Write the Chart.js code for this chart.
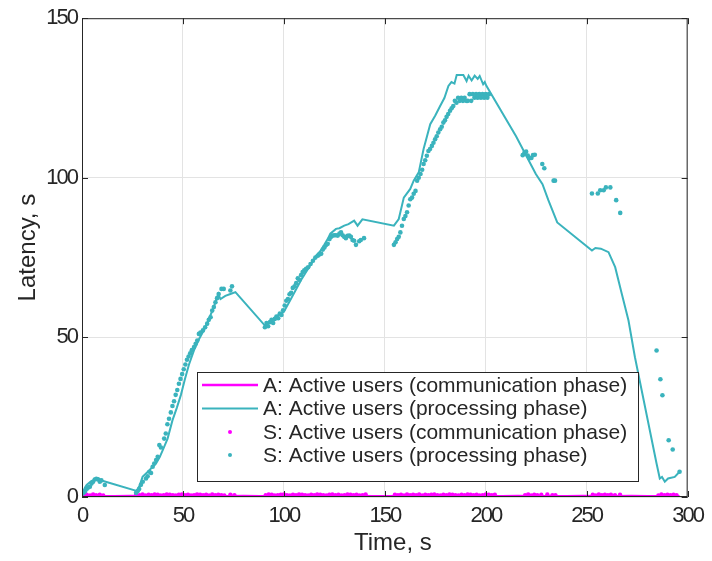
<!DOCTYPE html>
<html>
<head>
<meta charset="utf-8">
<script src="https://cdn.jsdelivr.net/npm/chart.js@4.4.1/dist/chart.umd.min.js"></script>
<style>
  html, body { margin: 0; padding: 0; background: #ffffff; }
  #wrap { width: 712px; height: 561px; }
</style>
</head>
<body>
<div id="wrap"><canvas id="chart" width="712" height="561"></canvas></div>
<script>
// Series labels
const seriesLabels = [
  'A: Active users (communication phase)',
  'A: Active users (processing phase)',
  'S: Active users (communication phase)',
  'S: Active users (processing phase)'
];

// Axis ticks
const xTicks = [0, 50, 100, 150, 200, 250, 300];
const yTicks = [0, 50, 100, 150];

// A: communication phase (line)
const aCommTime = [0, 8, 16, 24, 32, 40, 48, 56, 64, 72, 80, 88, 96, 104, 112, 120, 128, 136, 144, 152, 160, 168, 176, 184, 192, 200, 208, 216, 224, 232, 240, 248, 256, 264, 272, 280, 288, 296];
const aCommLatency = [0.2, 0.25, 0.2, 0.3, 0.25, 0.2, 0.3, 0.25, 0.2, 0.25, 0.3, 0.2, 0.25, 0.3, 0.2, 0.25, 0.2, 0.3, 0.25, 0.2, 0.3, 0.25, 0.2, 0.3, 0.25, 0.2, 0.25, 0.3, 0.2, 0.25, 0.2, 0.3, 0.25, 0.2, 0.3, 0.25, 0.2, 0.25];

// A: processing phase (line)
const aProcTime = [0, 1.5, 2.3, 4.7, 6, 8, 9.5, 10.5, 27, 28.5, 30, 33.4, 35, 36.7, 38.5, 40, 42.4, 44.8, 47, 49, 51, 53, 55.5, 58, 61, 63, 65, 67.5, 68.6, 71, 73.5, 76, 90.6, 92, 97, 100, 103, 106, 109, 112, 114, 116, 118, 120, 121.7, 123, 125.8, 127.5, 129.9, 132, 134.8, 136.5, 138.9, 154.5, 156.9, 159.4, 162.6, 164.3, 166.8, 169.2, 172.5, 175, 177.4, 179.5, 181.5, 183, 184.5, 185.6, 188.9, 190.5, 191.5, 193, 194.5, 196, 197, 198.7, 199.5, 200.3, 215, 220, 224.8, 228.1, 231, 235.4, 252.6, 254.3, 257, 260.8, 264.1, 267.4, 270.7, 273.9, 284.6, 286.2, 287.3, 288.7, 290.3, 293.6, 296];
const aProcLatency = [1.0, 3.0, 3.8, 5.0, 5.2, 5.9, 5.3, 5.0, 1.9, 3.5, 6.3, 8.4, 9.5, 10.5, 12.5, 14.7, 18.3, 24, 28, 32, 37, 41.5, 46, 49.5, 53, 56, 59, 63.6, 62, 63, 63.6, 64.2, 53.7, 54.2, 56.9, 58, 61.5, 65, 68.5, 71.5, 73.5, 75.6, 77, 79, 80.8, 82.5, 84, 84.2, 85, 85.5, 86.6, 85, 87, 85, 87.1, 93.8, 96.5, 99.1, 101.7, 109, 116.8, 119.5, 122.5, 125, 128.8, 130, 129.5, 132.2, 132.2, 130.3, 132, 130.5, 132, 131, 131.9, 129.3, 130, 128.8, 113, 107, 101.2, 98, 93, 86, 77.2, 78, 77.8, 76.7, 72, 63.6, 55.3, 43.8, 10.5, 5.8, 6.3, 4.8, 5.8, 6.3, 7.9];

// S: communication phase (points)
const sCommTime = [0.8, 2.3, 4, 5.5, 7, 8.8, 10.5, 26.8, 28.5, 30, 31.5, 33, 34.5, 36, 37.5, 39, 40.5, 42, 43.5, 45, 46.5, 48, 49.5, 51, 52.5, 54, 55.5, 57, 58.5, 60, 61.5, 63, 64.5, 66, 67.5, 69, 70.5, 73.5, 75.5, 91, 92.5, 94, 95.5, 97, 98.5, 100, 101.5, 103, 104.5, 106, 107.5, 109, 110.5, 112, 113.5, 115, 116.5, 118, 119.5, 121, 122.5, 124, 125.5, 127, 128.5, 130, 131.5, 133, 134.5, 136, 137.5, 139, 140.5, 155, 156.5, 158, 159.5, 161, 162.5, 164, 165.5, 167, 168.5, 170, 171.5, 173, 174.5, 176, 177.5, 179, 180.5, 182, 183.5, 185, 186.5, 188, 189.5, 191, 192.5, 194, 195.5, 197, 198.5, 200, 201.5, 203, 204.5, 219.5, 221, 222.5, 224, 225.5, 227.5, 230.5, 233, 234.5, 253, 254.5, 256, 257.5, 259, 260.5, 262, 264, 266.5, 285.5, 287, 288.5, 290, 291.5, 293, 294.5, 296];
const sCommLatency = [0.6, 0.7, 0.5, 0.8, 0.6, 0.7, 0.5, 0.7, 0.6, 0.8, 0.5, 0.7, 0.6, 0.8, 0.7, 0.5, 0.6, 0.8, 0.7, 0.6, 0.5, 0.7, 0.8, 0.6, 0.7, 0.5, 0.6, 0.8, 0.7, 0.6, 0.7, 0.5, 0.8, 0.6, 0.7, 0.6, 0.5, 0.7, 0.6, 0.6, 0.8, 0.7, 0.5, 0.6, 0.7, 0.8, 0.6, 0.5, 0.7, 0.6, 0.8, 0.7, 0.6, 0.5, 0.7, 0.6, 0.8, 0.7, 0.6, 0.5, 0.7, 0.8, 0.6, 0.7, 0.5, 0.6, 0.8, 0.7, 0.6, 0.7, 0.5, 0.6, 0.8, 0.7, 0.6, 0.7, 0.5, 0.8, 0.6, 0.7, 0.6, 0.8, 0.5, 0.7, 0.6, 0.7, 0.8, 0.6, 0.5, 0.7, 0.6, 0.8, 0.7, 0.6, 0.5, 0.7, 0.6, 0.8, 0.7, 0.6, 0.7, 0.5, 0.6, 0.8, 0.7, 0.6, 0.7, 0.6, 0.8, 0.5, 0.7, 0.6, 0.7, 0.8, 0.6, 0.6, 0.7, 0.5, 0.8, 0.6, 0.7, 0.6, 0.7, 0.6, 0.7, 0.5, 0.8, 0.6, 0.7, 0.6, 0.7, 0.6];

// S: processing phase (points)
const sProcTime = [0, 0.8, 1.5, 2.3, 3.1, 3.9, 4.7, 5.5, 6.3, 7.1, 8.0, 8.8, 9.6, 11.3, 26.8, 27.5, 28.3, 29.2, 30.1, 31.7, 32.5, 33.4, 34.2, 35.0, 35.8, 36.7, 37.5, 38.3, 39.1, 40.7, 41.5, 42.3, 43.1, 44, 44.8, 45.6, 46.4, 47.2, 48, 48.8, 49.6, 50.4, 51.2, 52, 52.8, 53.6, 54.4, 55.5, 56.3, 57.1, 57.9, 58.7, 59.9, 61, 62, 62.8, 63.7, 64.5, 65.3, 66.1, 66.9, 67.7, 69.1, 70.2, 73.5, 74.3,
  90.6, 91.4, 92.2, 93.1, 93.9, 94.7, 95.5, 96.3, 97.2, 98, 98.8, 99.6, 100.4, 101.2, 102, 102.8, 103.6, 104.4, 105.3, 106.1, 106.9, 107.7, 108.5, 109.3, 110.1, 111, 112, 113.2, 114.4, 115.6, 116.8, 117.6, 118.5, 119.3, 120.1, 121, 121.7, 122.6, 123.4, 124.2, 125, 125.8, 126.7, 127.5, 128.3, 129.1, 129.9, 130.7, 131.5, 132.4, 133.2, 134, 134.8, 135.7, 137.3, 138.1, 139.7,
  154.5, 155.3, 156.1, 156.9, 157.7, 158.5, 159.4, 160.2, 161, 161.8, 162.6, 163.5, 164.3, 165.2, 166, 166.8, 167.7, 168.5, 169.2, 170, 170.8, 171.6, 172.4, 173.3, 174.1, 174.9, 175.7, 176.5, 177.4, 178.2, 179, 179.8, 180.6, 181.4, 182.3, 183.1, 183.9, 184.7, 185.5, 186.3, 187.1, 187.9, 188.7, 189.5, 190.3, 191.1, 192, 192.8, 193.6, 194.4, 195.2, 196, 196.8, 197.6, 198.4, 199.2, 200, 200.8, 201.6,
  218.3, 219.2, 220, 220.8, 221.6, 222.6, 223.4, 224.3, 228, 229, 233.6, 234.3,
  252.6, 255.5, 256.7, 258.4, 259.5, 261.7, 264.6, 266.6,
  284.6, 286.5, 287.5, 290.6, 292.6, 296];
const sProcLatency = [1.0, 1.3, 1.7, 2.5, 3.0, 3.2, 4.2, 4.8, 5.5, 5.7, 5.5, 4.8, 5.2, 3.75, 1.3, 1.8, 2.5, 3.8, 4.8, 5.8, 6.5, 7.9, 7.5, 9.5, 10.5, 11.6, 12.6, 16.3, 15.5, 18.3, 19.9, 22.8, 24.5, 26.5, 28.5, 30, 32, 33.5, 35.5, 37, 38.5, 40, 41.5, 43, 44, 45, 46, 47, 48, 49, 51.1, 51.5, 52.2, 53.2, 54.3, 55.5, 56.3, 58.4, 59.5, 61, 62.3, 63.6, 65.2, 65.2, 64.7, 66,
  53.2, 54.5, 53.5, 54.8, 55.5, 54.5, 55.8, 56.5, 56, 57.5, 57, 58.5, 60, 61.5, 62, 63.5, 64, 65.5, 66, 67, 68.5, 68, 69.5, 70.5, 71, 71.5, 72, 73, 74, 75, 75.6, 76, 76.2, 77.5, 78.2, 79, 79.3, 80.8, 81.5, 81.9, 82, 82, 81.9, 82.5, 82.9, 82, 81.5, 81.1, 81.8, 81.9, 81.5, 80.5, 80.3, 79, 80.1, 80.5, 81.1,
  79, 79.8, 80.8, 81.5, 82.9, 85, 87.1, 88, 89.2, 91.3, 93.3, 93.8, 95, 95.9, 99.1, 100, 101.2, 102.5, 104.3, 105.5, 106.9, 108.4, 109, 110, 111, 112.1, 113, 114.2, 115.2, 116, 117.3, 118, 119.1, 120, 121, 121.8, 122.5, 124.1, 123.5, 125.1, 124.1, 125.1, 124.1, 125.1, 124.1, 124.1, 126.2, 124.1, 126.2, 125.1, 126.2, 125.1, 126.2, 125.1, 126.2, 125.1, 126.2, 125.1, 126.2,
  107.1, 107.9, 108.2, 107, 106.1, 106.2, 107.1, 107.2, 104.3, 103, 99.1, 99.1,
  95.1, 95.1, 96.1, 96.1, 97, 97, 93, 89,
  45.9, 36.9, 31.9, 17.8, 14.9, 7.9];

const MAGENTA = '#ff00ff';
const TEAL = '#3ab3bd';
const INK = '#262626';

const toPoints = (xs, ys) => xs.map((x, i) => ({ x: x, y: ys[i] }));

// Tight tracking for the numeric tick labels
const tickTracking = {
  id: 'tickTracking',
  beforeDraw(chart) { chart.ctx.letterSpacing = '-2px'; },
  beforeDatasetsDraw(chart) { chart.ctx.letterSpacing = '0px'; }
};

// Box around the axes with inward tick marks on all four sides
const axesBox = {
  id: 'axesBox',
  afterDatasetsDraw(chart) {
    const { ctx, chartArea: a, scales } = chart;
    ctx.save();
    ctx.strokeStyle = INK;
    ctx.lineWidth = 1;
    ctx.strokeRect(a.left + 0.5, a.top + 0.5, a.right - a.left - 1, a.bottom - a.top - 1);
    const len = 6;
    ctx.beginPath();
    xTicks.forEach(v => {
      const px = Math.round(scales.x.getPixelForValue(v)) + 0.5;
      ctx.moveTo(px, a.bottom); ctx.lineTo(px, a.bottom - len);
      ctx.moveTo(px, a.top); ctx.lineTo(px, a.top + len);
    });
    yTicks.forEach(v => {
      const py = Math.round(scales.y.getPixelForValue(v)) + 0.5;
      ctx.moveTo(a.left, py); ctx.lineTo(a.left + len, py);
      ctx.moveTo(a.right, py); ctx.lineTo(a.right - len, py);
    });
    ctx.stroke();
    ctx.restore();
  }
};

// Axis titles
const axisTitles = {
  id: 'axisTitles',
  afterDraw(chart) {
    const { ctx, chartArea: a } = chart;
    ctx.save();
    ctx.letterSpacing = '0px';
    ctx.fillStyle = INK;
    ctx.font = '24px "Liberation Sans", Arial, sans-serif';
    ctx.textAlign = 'center';
    ctx.textBaseline = 'alphabetic';
    ctx.fillText('Time, s', (a.left + a.right) / 2 + 8, a.bottom + 53);
    ctx.translate(a.left - 47, (a.top + a.bottom) / 2 - 10);
    ctx.rotate(-Math.PI / 2);
    ctx.fillText('Latency, s', 0, 0);
    ctx.restore();
  }
};

// Boxed legend inside the plot, lower centre
const boxLegend = {
  id: 'boxLegend',
  afterDraw(chart) {
    const { ctx } = chart;
    const left = 197, top = 372, right = 639, bottom = 482;
    ctx.save();
    ctx.letterSpacing = '0px';
    ctx.fillStyle = '#ffffff';
    ctx.fillRect(left, top, right - left, bottom - top);
    ctx.strokeStyle = INK;
    ctx.lineWidth = 1;
    ctx.strokeRect(left + 0.5, top + 0.5, right - left - 1, bottom - top - 1);
    ctx.font = '21px "Liberation Sans", Arial, sans-serif';
    ctx.textBaseline = 'middle';
    ctx.textAlign = 'left';
    const rowY = [385, 408.5, 432, 455];
    chart.data.datasets.forEach((ds, i) => {
      const y = rowY[i];
      if (ds.showLine) {
        ctx.strokeStyle = ds.borderColor;
        ctx.lineWidth = ds.borderWidth;
        ctx.beginPath();
        ctx.moveTo(202, y); ctx.lineTo(258, y);
        ctx.stroke();
      } else {
        ctx.fillStyle = ds.backgroundColor;
        ctx.beginPath();
        ctx.arc(230, y, 2, 0, Math.PI * 2);
        ctx.fill();
      }
      ctx.fillStyle = INK;
      ctx.fillText(ds.label, 263, y + 1);
    });
    ctx.restore();
  }
};

const tickFont = { family: '"Liberation Sans", Arial, sans-serif', size: 22 };

new Chart(document.getElementById('chart'), {
  type: 'scatter',
  data: {
    datasets: [
      { label: seriesLabels[0], data: toPoints(aCommTime, aCommLatency), showLine: true, borderColor: MAGENTA, backgroundColor: MAGENTA, borderWidth: 2.5, pointRadius: 0, order: 3 },
      { label: seriesLabels[1], data: toPoints(aProcTime, aProcLatency), showLine: true, borderColor: TEAL, backgroundColor: TEAL, borderWidth: 2, pointRadius: 0, order: 2 },
      { label: seriesLabels[2], data: toPoints(sCommTime, sCommLatency), showLine: false, borderColor: MAGENTA, backgroundColor: MAGENTA, pointRadius: 2.2, pointBorderWidth: 0, order: 1 },
      { label: seriesLabels[3], data: toPoints(sProcTime, sProcLatency), showLine: false, borderColor: TEAL, backgroundColor: TEAL, pointRadius: 2.3, pointBorderWidth: 0, order: 0 }
    ]
  },
  options: {
    responsive: false,
    animation: false,
    layout: { padding: { top: 17, right: 19, left: 0, bottom: 0 } },
    plugins: { legend: { display: false }, tooltip: { enabled: false } },
    scales: {
      x: {
        type: 'linear', min: 0, max: 300,
        afterFit: s => { s.height = 64; },
        afterBuildTicks: s => { s.ticks = xTicks.map(v => ({ value: v })); },
        grid: { color: '#e3e3e3', lineWidth: 1, drawTicks: false },
        border: { display: false },
        ticks: { font: tickFont, color: INK, padding: 6, maxRotation: 0 }
      },
      y: {
        type: 'linear', min: 0, max: 150,
        afterFit: s => { s.width = 82; },
        afterBuildTicks: s => { s.ticks = yTicks.map(v => ({ value: v })); },
        grid: { color: '#e3e3e3', lineWidth: 1, drawTicks: false },
        border: { display: false },
        ticks: { font: tickFont, color: INK, padding: 5 }
      }
    }
  },
  plugins: [tickTracking, axesBox, axisTitles, boxLegend]
});
</script>
</body>
</html>
